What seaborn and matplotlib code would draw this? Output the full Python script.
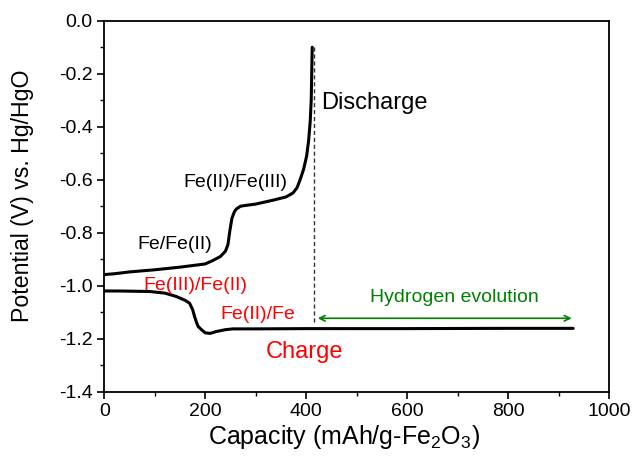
import matplotlib
matplotlib.use("Agg")
import matplotlib.pyplot as plt
import seaborn as sns
import pandas as pd

discharge_cap = [0, 20, 50, 100, 150, 200, 215, 230, 240, 245, 249, 253, 258, 262, 270, 280,
                 300, 335, 360, 374, 382, 388, 395, 401, 405, 408, 410, 411, 412]
discharge_v = [-0.958, -0.955, -0.948, -0.940, -0.930, -0.918, -0.905, -0.890, -0.870, -0.845,
               -0.790, -0.745, -0.720, -0.710, -0.700, -0.697, -0.692, -0.677, -0.665, -0.650,
               -0.630, -0.600, -0.560, -0.510, -0.450, -0.380, -0.300, -0.200, -0.100]

charge_cap = [0, 30, 90, 120, 143, 160, 169, 175, 179, 183, 186, 192, 200, 210, 222, 240, 255,
              300, 400, 600, 800, 929]
charge_v = [-1.020, -1.020, -1.022, -1.028, -1.041, -1.055, -1.066, -1.090, -1.117, -1.140,
            -1.154, -1.165, -1.178, -1.180, -1.173, -1.166, -1.163, -1.163, -1.162, -1.162,
            -1.161, -1.161]

cutoff_cap = 415
cutoff_v = [-0.10, -1.14]
h2_range = [423, 926]
h2_v = -1.123

sns.set_style("ticks")
plt.rcParams['font.family'] = ['Liberation Sans', 'DejaVu Sans']
plt.rcParams['text.color'] = 'black'
plt.rcParams['axes.labelcolor'] = 'black'
plt.rcParams['xtick.color'] = 'black'
plt.rcParams['ytick.color'] = 'black'
plt.rcParams['mathtext.fontset'] = 'custom'
plt.rcParams['mathtext.rm'] = 'Liberation Sans'

fig = plt.figure(figsize=(6.32, 4.66), dpi=100)
ax = fig.add_axes([0.165, 0.1595, 0.7986, 0.796])

dd = pd.DataFrame({"cap": discharge_cap, "v": discharge_v})
dc = pd.DataFrame({"cap": charge_cap, "v": charge_v})
sns.lineplot(data=dd, x="cap", y="v", sort=False, estimator=None, color="black", lw=2.2, ax=ax)
sns.lineplot(data=dc, x="cap", y="v", sort=False, estimator=None, color="black", lw=2.2, ax=ax)

ax.plot([cutoff_cap, cutoff_cap], cutoff_v, ls=(0, (3, 2)), color="#333333", lw=1.0)
ax.annotate("", xy=(h2_range[0], h2_v), xytext=(h2_range[1], h2_v),
            arrowprops=dict(arrowstyle="<->", color="green", lw=1.2,
                            shrinkA=0, shrinkB=0, mutation_scale=10))

ax.text(429, -0.312, "Discharge", fontsize=17, color="black", va="center", ha="left")
ax.text(156, -0.61, "Fe(II)/Fe(III)", fontsize=14, color="black", va="center", ha="left")
ax.text(66, -0.843, "Fe/Fe(II)", fontsize=14, color="black", va="center", ha="left")
ax.text(78, -1.00, "Fe(III)/Fe(II)", fontsize=14, color="red", va="center", ha="left")
ax.text(231, -1.107, "Fe(II)/Fe", fontsize=14, color="red", va="center", ha="left")
ax.text(320, -1.249, "Charge", fontsize=17, color="red", va="center", ha="left")
ax.text(526, -1.043, "Hydrogen evolution", fontsize=14, color="green", va="center", ha="left")

ax.set_xlim(0, 1000)
ax.set_ylim(-1.4, 0.0)
ax.set_xticks([0, 200, 400, 600, 800, 1000])
ax.set_xticks([100, 300, 500, 700, 900], minor=True)
ax.set_yticks([-1.4, -1.2, -1.0, -0.8, -0.6, -0.4, -0.2, 0.0])
ax.set_yticks([-1.3, -1.1, -0.9, -0.7, -0.5, -0.3, -0.1], minor=True)
ax.set_yticklabels(["-1.4", "-1.2", "-1.0", "-0.8", "-0.6", "-0.4", "-0.2", "0.0"])
ax.tick_params(which="major", direction="out", length=5, width=1.2, labelsize=14, colors="black")
ax.tick_params(which="minor", direction="out", length=3, width=1.0)
for s in ax.spines.values():
    s.set_visible(True)
    s.set_linewidth(1.3)
    s.set_color("black")

ax.set_xlabel("Capacity (mAh/g-Fe$_2$O$_3$)", fontsize=18)
ax.set_ylabel("Potential (V) vs. Hg/HgO", fontsize=16.7)
ax.xaxis.set_label_coords(0.475, -0.085)
ax.yaxis.set_label_coords(-0.14, 0.527)

fig.savefig("out.png", dpi=100)
